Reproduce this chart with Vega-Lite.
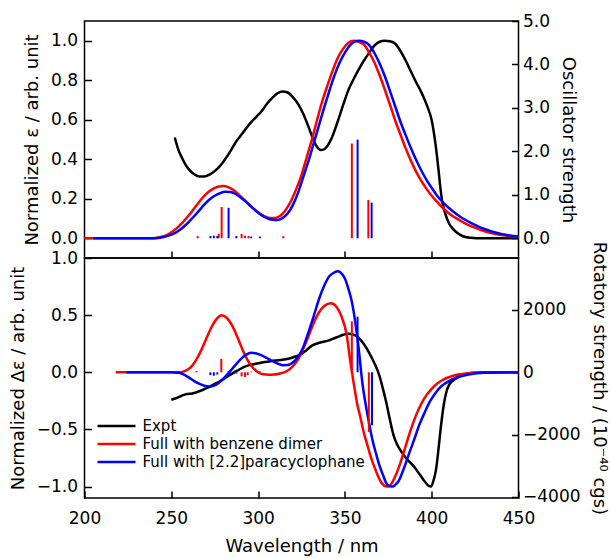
{
"$schema": "https://vega.github.io/schema/vega-lite/v6.json",
"padding": {"left": 7.5, "top": 11, "right": 5, "bottom": 5},
"background": "white",
"bounds": "flush",
"spacing": 0,
"config": {
 "font": "DejaVu Sans",
 "view": {"stroke": "black", "strokeWidth": 1.5},
 "axis": {"labelFont": "DejaVu Sans", "labelFontSize": 17, "labelColor": "black", "titleFont": "DejaVu Sans", "titleFontSize": 18, "titleFontWeight": "normal", "titleColor": "black", "grid": false, "domain": false, "tickColor": "black", "tickSize": -7, "tickWidth": 1.5, "labelFlush": false, "labelOverlap": false, "labelPadding": 14, "titlePadding": 9}
},
"datasets": {
 "abs": [
{"s":"Expt","wl":252,"v":0.51},{"s":"Expt","wl":254,"v":0.45},{"s":"Expt","wl":256,"v":0.41},{"s":"Expt","wl":258,"v":0.375},{"s":"Expt","wl":260,"v":0.35},{"s":"Expt","wl":263,"v":0.325},{"s":"Expt","wl":266,"v":0.313},{"s":"Expt","wl":269,"v":0.313},{"s":"Expt","wl":272,"v":0.322},{"s":"Expt","wl":275,"v":0.34},{"s":"Expt","wl":278,"v":0.365},{"s":"Expt","wl":281,"v":0.4},{"s":"Expt","wl":284,"v":0.44},{"s":"Expt","wl":287,"v":0.485},{"s":"Expt","wl":290,"v":0.52},{"s":"Expt","wl":293,"v":0.555},{"s":"Expt","wl":296,"v":0.588},{"s":"Expt","wl":299,"v":0.615},{"s":"Expt","wl":302,"v":0.643},{"s":"Expt","wl":305,"v":0.68},{"s":"Expt","wl":308,"v":0.71},{"s":"Expt","wl":311,"v":0.733},{"s":"Expt","wl":314,"v":0.743},{"s":"Expt","wl":317,"v":0.738},{"s":"Expt","wl":320,"v":0.715},{"s":"Expt","wl":323,"v":0.68},{"s":"Expt","wl":326,"v":0.63},{"s":"Expt","wl":329,"v":0.565},{"s":"Expt","wl":332,"v":0.495},{"s":"Expt","wl":334,"v":0.462},{"s":"Expt","wl":336,"v":0.447},{"s":"Expt","wl":338,"v":0.45},{"s":"Expt","wl":340,"v":0.468},{"s":"Expt","wl":343,"v":0.52},{"s":"Expt","wl":346,"v":0.595},{"s":"Expt","wl":349,"v":0.675},{"s":"Expt","wl":352,"v":0.75},{"s":"Expt","wl":355,"v":0.805},{"s":"Expt","wl":358,"v":0.855},{"s":"Expt","wl":361,"v":0.9},{"s":"Expt","wl":364,"v":0.94},{"s":"Expt","wl":367,"v":0.975},{"s":"Expt","wl":370,"v":0.995},{"s":"Expt","wl":373,"v":1.0},{"s":"Expt","wl":376,"v":0.997},{"s":"Expt","wl":379,"v":0.985},{"s":"Expt","wl":382,"v":0.948},{"s":"Expt","wl":385,"v":0.9},{"s":"Expt","wl":388,"v":0.845},{"s":"Expt","wl":391,"v":0.79},{"s":"Expt","wl":394,"v":0.74},{"s":"Expt","wl":396,"v":0.7},{"s":"Expt","wl":398,"v":0.655},{"s":"Expt","wl":400,"v":0.598},{"s":"Expt","wl":401.5,"v":0.52},{"s":"Expt","wl":403,"v":0.42},{"s":"Expt","wl":404,"v":0.34},{"s":"Expt","wl":405,"v":0.255},{"s":"Expt","wl":406,"v":0.19},{"s":"Expt","wl":408,"v":0.12},{"s":"Expt","wl":410,"v":0.075},{"s":"Expt","wl":412,"v":0.05},{"s":"Expt","wl":415,"v":0.025},{"s":"Expt","wl":418,"v":0.01},{"s":"Expt","wl":422,"v":0.003},{"s":"Expt","wl":430,"v":0},{"s":"Expt","wl":450,"v":0},
{"s":"Full with benzene dimer","wl":200,"v":0},{"s":"Full with benzene dimer","wl":240,"v":0},{"s":"Full with benzene dimer","wl":244,"v":0.006},{"s":"Full with benzene dimer","wl":247,"v":0.015},{"s":"Full with benzene dimer","wl":250,"v":0.03},{"s":"Full with benzene dimer","wl":253,"v":0.05},{"s":"Full with benzene dimer","wl":256,"v":0.075},{"s":"Full with benzene dimer","wl":259,"v":0.105},{"s":"Full with benzene dimer","wl":262,"v":0.137},{"s":"Full with benzene dimer","wl":265,"v":0.172},{"s":"Full with benzene dimer","wl":268,"v":0.205},{"s":"Full with benzene dimer","wl":271,"v":0.232},{"s":"Full with benzene dimer","wl":274,"v":0.25},{"s":"Full with benzene dimer","wl":277,"v":0.261},{"s":"Full with benzene dimer","wl":280,"v":0.265},{"s":"Full with benzene dimer","wl":283,"v":0.258},{"s":"Full with benzene dimer","wl":286,"v":0.243},{"s":"Full with benzene dimer","wl":289,"v":0.22},{"s":"Full with benzene dimer","wl":292,"v":0.195},{"s":"Full with benzene dimer","wl":295,"v":0.17},{"s":"Full with benzene dimer","wl":298,"v":0.145},{"s":"Full with benzene dimer","wl":301,"v":0.125},{"s":"Full with benzene dimer","wl":304,"v":0.11},{"s":"Full with benzene dimer","wl":307,"v":0.102},{"s":"Full with benzene dimer","wl":310,"v":0.103},{"s":"Full with benzene dimer","wl":313,"v":0.115},{"s":"Full with benzene dimer","wl":316,"v":0.145},{"s":"Full with benzene dimer","wl":319,"v":0.19},{"s":"Full with benzene dimer","wl":322,"v":0.25},{"s":"Full with benzene dimer","wl":325,"v":0.32},{"s":"Full with benzene dimer","wl":328,"v":0.41},{"s":"Full with benzene dimer","wl":331,"v":0.5},{"s":"Full with benzene dimer","wl":334,"v":0.6},{"s":"Full with benzene dimer","wl":337,"v":0.695},{"s":"Full with benzene dimer","wl":340,"v":0.775},{"s":"Full with benzene dimer","wl":343,"v":0.85},{"s":"Full with benzene dimer","wl":346,"v":0.915},{"s":"Full with benzene dimer","wl":349,"v":0.96},{"s":"Full with benzene dimer","wl":352,"v":0.99},{"s":"Full with benzene dimer","wl":355,"v":1.0},{"s":"Full with benzene dimer","wl":358,"v":0.995},{"s":"Full with benzene dimer","wl":361,"v":0.98},{"s":"Full with benzene dimer","wl":364,"v":0.94},{"s":"Full with benzene dimer","wl":367,"v":0.89},{"s":"Full with benzene dimer","wl":370,"v":0.825},{"s":"Full with benzene dimer","wl":373,"v":0.752},{"s":"Full with benzene dimer","wl":376,"v":0.675},{"s":"Full with benzene dimer","wl":379,"v":0.595},{"s":"Full with benzene dimer","wl":382,"v":0.525},{"s":"Full with benzene dimer","wl":385,"v":0.455},{"s":"Full with benzene dimer","wl":388,"v":0.393},{"s":"Full with benzene dimer","wl":391,"v":0.337},{"s":"Full with benzene dimer","wl":394,"v":0.29},{"s":"Full with benzene dimer","wl":397,"v":0.25},{"s":"Full with benzene dimer","wl":400,"v":0.215},{"s":"Full with benzene dimer","wl":403,"v":0.185},{"s":"Full with benzene dimer","wl":406,"v":0.157},{"s":"Full with benzene dimer","wl":409,"v":0.133},{"s":"Full with benzene dimer","wl":412,"v":0.113},{"s":"Full with benzene dimer","wl":415,"v":0.097},{"s":"Full with benzene dimer","wl":418,"v":0.082},{"s":"Full with benzene dimer","wl":421,"v":0.068},{"s":"Full with benzene dimer","wl":424,"v":0.056},{"s":"Full with benzene dimer","wl":427,"v":0.046},{"s":"Full with benzene dimer","wl":430,"v":0.037},{"s":"Full with benzene dimer","wl":435,"v":0.025},{"s":"Full with benzene dimer","wl":440,"v":0.016},{"s":"Full with benzene dimer","wl":445,"v":0.01},{"s":"Full with benzene dimer","wl":450,"v":0.006},
{"s":"Full with [2.2]paracyclophane","wl":205,"v":0},{"s":"Full with [2.2]paracyclophane","wl":240,"v":0},{"s":"Full with [2.2]paracyclophane","wl":245,"v":0.005},{"s":"Full with [2.2]paracyclophane","wl":248,"v":0.012},{"s":"Full with [2.2]paracyclophane","wl":251,"v":0.022},{"s":"Full with [2.2]paracyclophane","wl":254,"v":0.037},{"s":"Full with [2.2]paracyclophane","wl":257,"v":0.057},{"s":"Full with [2.2]paracyclophane","wl":260,"v":0.082},{"s":"Full with [2.2]paracyclophane","wl":263,"v":0.11},{"s":"Full with [2.2]paracyclophane","wl":266,"v":0.14},{"s":"Full with [2.2]paracyclophane","wl":269,"v":0.17},{"s":"Full with [2.2]paracyclophane","wl":272,"v":0.196},{"s":"Full with [2.2]paracyclophane","wl":275,"v":0.215},{"s":"Full with [2.2]paracyclophane","wl":278,"v":0.228},{"s":"Full with [2.2]paracyclophane","wl":281,"v":0.235},{"s":"Full with [2.2]paracyclophane","wl":284,"v":0.234},{"s":"Full with [2.2]paracyclophane","wl":287,"v":0.224},{"s":"Full with [2.2]paracyclophane","wl":290,"v":0.206},{"s":"Full with [2.2]paracyclophane","wl":293,"v":0.184},{"s":"Full with [2.2]paracyclophane","wl":296,"v":0.16},{"s":"Full with [2.2]paracyclophane","wl":299,"v":0.137},{"s":"Full with [2.2]paracyclophane","wl":302,"v":0.117},{"s":"Full with [2.2]paracyclophane","wl":305,"v":0.102},{"s":"Full with [2.2]paracyclophane","wl":308,"v":0.094},{"s":"Full with [2.2]paracyclophane","wl":311,"v":0.093},{"s":"Full with [2.2]paracyclophane","wl":314,"v":0.102},{"s":"Full with [2.2]paracyclophane","wl":317,"v":0.125},{"s":"Full with [2.2]paracyclophane","wl":320,"v":0.168},{"s":"Full with [2.2]paracyclophane","wl":323,"v":0.23},{"s":"Full with [2.2]paracyclophane","wl":326,"v":0.31},{"s":"Full with [2.2]paracyclophane","wl":329,"v":0.39},{"s":"Full with [2.2]paracyclophane","wl":332,"v":0.48},{"s":"Full with [2.2]paracyclophane","wl":335,"v":0.57},{"s":"Full with [2.2]paracyclophane","wl":338,"v":0.66},{"s":"Full with [2.2]paracyclophane","wl":341,"v":0.745},{"s":"Full with [2.2]paracyclophane","wl":344,"v":0.825},{"s":"Full with [2.2]paracyclophane","wl":347,"v":0.89},{"s":"Full with [2.2]paracyclophane","wl":350,"v":0.94},{"s":"Full with [2.2]paracyclophane","wl":353,"v":0.978},{"s":"Full with [2.2]paracyclophane","wl":356,"v":0.997},{"s":"Full with [2.2]paracyclophane","wl":358,"v":1.0},{"s":"Full with [2.2]paracyclophane","wl":361,"v":0.995},{"s":"Full with [2.2]paracyclophane","wl":364,"v":0.978},{"s":"Full with [2.2]paracyclophane","wl":367,"v":0.938},{"s":"Full with [2.2]paracyclophane","wl":370,"v":0.885},{"s":"Full with [2.2]paracyclophane","wl":373,"v":0.82},{"s":"Full with [2.2]paracyclophane","wl":376,"v":0.745},{"s":"Full with [2.2]paracyclophane","wl":379,"v":0.667},{"s":"Full with [2.2]paracyclophane","wl":382,"v":0.59},{"s":"Full with [2.2]paracyclophane","wl":385,"v":0.522},{"s":"Full with [2.2]paracyclophane","wl":388,"v":0.457},{"s":"Full with [2.2]paracyclophane","wl":391,"v":0.397},{"s":"Full with [2.2]paracyclophane","wl":394,"v":0.343},{"s":"Full with [2.2]paracyclophane","wl":397,"v":0.296},{"s":"Full with [2.2]paracyclophane","wl":400,"v":0.255},{"s":"Full with [2.2]paracyclophane","wl":403,"v":0.217},{"s":"Full with [2.2]paracyclophane","wl":406,"v":0.186},{"s":"Full with [2.2]paracyclophane","wl":409,"v":0.16},{"s":"Full with [2.2]paracyclophane","wl":412,"v":0.138},{"s":"Full with [2.2]paracyclophane","wl":415,"v":0.118},{"s":"Full with [2.2]paracyclophane","wl":418,"v":0.1},{"s":"Full with [2.2]paracyclophane","wl":421,"v":0.085},{"s":"Full with [2.2]paracyclophane","wl":424,"v":0.071},{"s":"Full with [2.2]paracyclophane","wl":427,"v":0.059},{"s":"Full with [2.2]paracyclophane","wl":430,"v":0.048},{"s":"Full with [2.2]paracyclophane","wl":435,"v":0.033},{"s":"Full with [2.2]paracyclophane","wl":440,"v":0.022},{"s":"Full with [2.2]paracyclophane","wl":445,"v":0.014},{"s":"Full with [2.2]paracyclophane","wl":450,"v":0.009}
 ],
 "osc": [
{"s":"Full with benzene dimer","wl":265.2,"f":0.05},{"s":"Full with benzene dimer","wl":277.3,"f":0.1},{"s":"Full with benzene dimer","wl":279,"f":0.72},{"s":"Full with benzene dimer","wl":290.5,"f":0.1},{"s":"Full with benzene dimer","wl":292.5,"f":0.06},{"s":"Full with benzene dimer","wl":294.5,"f":0.05},{"s":"Full with benzene dimer","wl":314.5,"f":0.05},{"s":"Full with benzene dimer","wl":354,"f":2.18},{"s":"Full with benzene dimer","wl":363.5,"f":0.88},
{"s":"Full with [2.2]paracyclophane","wl":272.5,"f":0.05},{"s":"Full with [2.2]paracyclophane","wl":274.5,"f":0.06},{"s":"Full with [2.2]paracyclophane","wl":276.5,"f":0.05},{"s":"Full with [2.2]paracyclophane","wl":283,"f":0.7},{"s":"Full with [2.2]paracyclophane","wl":287.5,"f":0.05},{"s":"Full with [2.2]paracyclophane","wl":296,"f":0.04},{"s":"Full with [2.2]paracyclophane","wl":301,"f":0.04},{"s":"Full with [2.2]paracyclophane","wl":357.3,"f":2.27},{"s":"Full with [2.2]paracyclophane","wl":365.4,"f":0.82}
 ],
 "cd": [
{"s":"Expt","wl":250,"v":-0.24},{"s":"Expt","wl":253,"v":-0.225},{"s":"Expt","wl":256,"v":-0.205},{"s":"Expt","wl":259,"v":-0.19},{"s":"Expt","wl":262,"v":-0.185},{"s":"Expt","wl":265,"v":-0.172},{"s":"Expt","wl":268,"v":-0.155},{"s":"Expt","wl":271,"v":-0.135},{"s":"Expt","wl":274,"v":-0.11},{"s":"Expt","wl":277,"v":-0.087},{"s":"Expt","wl":280,"v":-0.06},{"s":"Expt","wl":283,"v":-0.03},{"s":"Expt","wl":286,"v":-0.003},{"s":"Expt","wl":289,"v":0.022},{"s":"Expt","wl":292,"v":0.047},{"s":"Expt","wl":295,"v":0.063},{"s":"Expt","wl":298,"v":0.072},{"s":"Expt","wl":301,"v":0.082},{"s":"Expt","wl":304,"v":0.09},{"s":"Expt","wl":307,"v":0.097},{"s":"Expt","wl":310,"v":0.103},{"s":"Expt","wl":313,"v":0.108},{"s":"Expt","wl":316,"v":0.114},{"s":"Expt","wl":319,"v":0.125},{"s":"Expt","wl":322,"v":0.14},{"s":"Expt","wl":325,"v":0.16},{"s":"Expt","wl":328,"v":0.195},{"s":"Expt","wl":331,"v":0.233},{"s":"Expt","wl":334,"v":0.252},{"s":"Expt","wl":337,"v":0.265},{"s":"Expt","wl":340,"v":0.275},{"s":"Expt","wl":343,"v":0.292},{"s":"Expt","wl":346,"v":0.31},{"s":"Expt","wl":349,"v":0.328},{"s":"Expt","wl":352,"v":0.338},{"s":"Expt","wl":355,"v":0.33},{"s":"Expt","wl":358,"v":0.3},{"s":"Expt","wl":361,"v":0.245},{"s":"Expt","wl":364,"v":0.17},{"s":"Expt","wl":367,"v":0.08},{"s":"Expt","wl":370,"v":-0.035},{"s":"Expt","wl":372,"v":-0.15},{"s":"Expt","wl":374,"v":-0.276},{"s":"Expt","wl":376,"v":-0.42},{"s":"Expt","wl":378,"v":-0.55},{"s":"Expt","wl":380,"v":-0.63},{"s":"Expt","wl":383,"v":-0.705},{"s":"Expt","wl":386,"v":-0.765},{"s":"Expt","wl":389,"v":-0.81},{"s":"Expt","wl":392,"v":-0.87},{"s":"Expt","wl":395,"v":-0.935},{"s":"Expt","wl":398,"v":-0.99},{"s":"Expt","wl":399.5,"v":-1.0},{"s":"Expt","wl":401,"v":-0.95},{"s":"Expt","wl":402.5,"v":-0.85},{"s":"Expt","wl":404,"v":-0.66},{"s":"Expt","wl":405.5,"v":-0.45},{"s":"Expt","wl":407,"v":-0.28},{"s":"Expt","wl":408.5,"v":-0.17},{"s":"Expt","wl":410,"v":-0.11},{"s":"Expt","wl":412,"v":-0.075},{"s":"Expt","wl":415,"v":-0.045},{"s":"Expt","wl":418,"v":-0.022},{"s":"Expt","wl":421,"v":-0.01},{"s":"Expt","wl":425,"v":-0.003},{"s":"Expt","wl":430,"v":0},{"s":"Expt","wl":450,"v":0},
{"s":"Full with benzene dimer","wl":218,"v":0},{"s":"Full with benzene dimer","wl":255,"v":0},{"s":"Full with benzene dimer","wl":258,"v":0.012},{"s":"Full with benzene dimer","wl":261,"v":0.04},{"s":"Full with benzene dimer","wl":264,"v":0.1},{"s":"Full with benzene dimer","wl":267,"v":0.185},{"s":"Full with benzene dimer","wl":270,"v":0.29},{"s":"Full with benzene dimer","wl":273,"v":0.39},{"s":"Full with benzene dimer","wl":276,"v":0.465},{"s":"Full with benzene dimer","wl":279,"v":0.5},{"s":"Full with benzene dimer","wl":282,"v":0.475},{"s":"Full with benzene dimer","wl":285,"v":0.41},{"s":"Full with benzene dimer","wl":288,"v":0.31},{"s":"Full with benzene dimer","wl":291,"v":0.2},{"s":"Full with benzene dimer","wl":294,"v":0.105},{"s":"Full with benzene dimer","wl":297,"v":0.04},{"s":"Full with benzene dimer","wl":300,"v":0.0},{"s":"Full with benzene dimer","wl":303,"v":-0.018},{"s":"Full with benzene dimer","wl":306,"v":-0.022},{"s":"Full with benzene dimer","wl":309,"v":-0.02},{"s":"Full with benzene dimer","wl":312,"v":-0.012},{"s":"Full with benzene dimer","wl":315,"v":0.0},{"s":"Full with benzene dimer","wl":318,"v":0.025},{"s":"Full with benzene dimer","wl":321,"v":0.07},{"s":"Full with benzene dimer","wl":324,"v":0.14},{"s":"Full with benzene dimer","wl":327,"v":0.24},{"s":"Full with benzene dimer","wl":330,"v":0.355},{"s":"Full with benzene dimer","wl":333,"v":0.465},{"s":"Full with benzene dimer","wl":336,"v":0.545},{"s":"Full with benzene dimer","wl":339,"v":0.59},{"s":"Full with benzene dimer","wl":342,"v":0.603},{"s":"Full with benzene dimer","wl":345,"v":0.575},{"s":"Full with benzene dimer","wl":348,"v":0.49},{"s":"Full with benzene dimer","wl":351,"v":0.33},{"s":"Full with benzene dimer","wl":353,"v":0.11},{"s":"Full with benzene dimer","wl":355,"v":-0.09},{"s":"Full with benzene dimer","wl":357,"v":-0.27},{"s":"Full with benzene dimer","wl":359,"v":-0.4},{"s":"Full with benzene dimer","wl":361,"v":-0.535},{"s":"Full with benzene dimer","wl":363,"v":-0.64},{"s":"Full with benzene dimer","wl":365,"v":-0.745},{"s":"Full with benzene dimer","wl":367,"v":-0.83},{"s":"Full with benzene dimer","wl":369,"v":-0.905},{"s":"Full with benzene dimer","wl":371,"v":-0.965},{"s":"Full with benzene dimer","wl":373,"v":-0.995},{"s":"Full with benzene dimer","wl":375,"v":-1.0},{"s":"Full with benzene dimer","wl":377,"v":-0.97},{"s":"Full with benzene dimer","wl":379,"v":-0.91},{"s":"Full with benzene dimer","wl":382,"v":-0.79},{"s":"Full with benzene dimer","wl":385,"v":-0.645},{"s":"Full with benzene dimer","wl":388,"v":-0.5},{"s":"Full with benzene dimer","wl":391,"v":-0.375},{"s":"Full with benzene dimer","wl":394,"v":-0.275},{"s":"Full with benzene dimer","wl":397,"v":-0.2},{"s":"Full with benzene dimer","wl":400,"v":-0.145},{"s":"Full with benzene dimer","wl":403,"v":-0.1},{"s":"Full with benzene dimer","wl":406,"v":-0.07},{"s":"Full with benzene dimer","wl":409,"v":-0.048},{"s":"Full with benzene dimer","wl":412,"v":-0.032},{"s":"Full with benzene dimer","wl":416,"v":-0.018},{"s":"Full with benzene dimer","wl":420,"v":-0.01},{"s":"Full with benzene dimer","wl":425,"v":-0.004},{"s":"Full with benzene dimer","wl":430,"v":-0.001},{"s":"Full with benzene dimer","wl":450,"v":0},
{"s":"Full with [2.2]paracyclophane","wl":224,"v":0},{"s":"Full with [2.2]paracyclophane","wl":250,"v":0},{"s":"Full with [2.2]paracyclophane","wl":254,"v":-0.005},{"s":"Full with [2.2]paracyclophane","wl":257,"v":-0.018},{"s":"Full with [2.2]paracyclophane","wl":260,"v":-0.045},{"s":"Full with [2.2]paracyclophane","wl":263,"v":-0.075},{"s":"Full with [2.2]paracyclophane","wl":266,"v":-0.1},{"s":"Full with [2.2]paracyclophane","wl":269,"v":-0.118},{"s":"Full with [2.2]paracyclophane","wl":272,"v":-0.125},{"s":"Full with [2.2]paracyclophane","wl":275,"v":-0.115},{"s":"Full with [2.2]paracyclophane","wl":278,"v":-0.085},{"s":"Full with [2.2]paracyclophane","wl":281,"v":-0.04},{"s":"Full with [2.2]paracyclophane","wl":284,"v":0.01},{"s":"Full with [2.2]paracyclophane","wl":287,"v":0.065},{"s":"Full with [2.2]paracyclophane","wl":290,"v":0.115},{"s":"Full with [2.2]paracyclophane","wl":293,"v":0.152},{"s":"Full with [2.2]paracyclophane","wl":296,"v":0.17},{"s":"Full with [2.2]paracyclophane","wl":299,"v":0.165},{"s":"Full with [2.2]paracyclophane","wl":302,"v":0.148},{"s":"Full with [2.2]paracyclophane","wl":305,"v":0.125},{"s":"Full with [2.2]paracyclophane","wl":308,"v":0.1},{"s":"Full with [2.2]paracyclophane","wl":311,"v":0.078},{"s":"Full with [2.2]paracyclophane","wl":314,"v":0.062},{"s":"Full with [2.2]paracyclophane","wl":317,"v":0.063},{"s":"Full with [2.2]paracyclophane","wl":320,"v":0.085},{"s":"Full with [2.2]paracyclophane","wl":323,"v":0.135},{"s":"Full with [2.2]paracyclophane","wl":326,"v":0.22},{"s":"Full with [2.2]paracyclophane","wl":329,"v":0.35},{"s":"Full with [2.2]paracyclophane","wl":332,"v":0.49},{"s":"Full with [2.2]paracyclophane","wl":335,"v":0.637},{"s":"Full with [2.2]paracyclophane","wl":338,"v":0.755},{"s":"Full with [2.2]paracyclophane","wl":341,"v":0.84},{"s":"Full with [2.2]paracyclophane","wl":344,"v":0.875},{"s":"Full with [2.2]paracyclophane","wl":346,"v":0.883},{"s":"Full with [2.2]paracyclophane","wl":348,"v":0.865},{"s":"Full with [2.2]paracyclophane","wl":350,"v":0.82},{"s":"Full with [2.2]paracyclophane","wl":352,"v":0.73},{"s":"Full with [2.2]paracyclophane","wl":354,"v":0.617},{"s":"Full with [2.2]paracyclophane","wl":356,"v":0.436},{"s":"Full with [2.2]paracyclophane","wl":358,"v":0.2},{"s":"Full with [2.2]paracyclophane","wl":360,"v":-0.085},{"s":"Full with [2.2]paracyclophane","wl":362,"v":-0.285},{"s":"Full with [2.2]paracyclophane","wl":364,"v":-0.45},{"s":"Full with [2.2]paracyclophane","wl":366,"v":-0.6},{"s":"Full with [2.2]paracyclophane","wl":368,"v":-0.715},{"s":"Full with [2.2]paracyclophane","wl":370,"v":-0.82},{"s":"Full with [2.2]paracyclophane","wl":372,"v":-0.9},{"s":"Full with [2.2]paracyclophane","wl":374,"v":-0.975},{"s":"Full with [2.2]paracyclophane","wl":376,"v":-0.997},{"s":"Full with [2.2]paracyclophane","wl":377.5,"v":-1.0},{"s":"Full with [2.2]paracyclophane","wl":379,"v":-0.985},{"s":"Full with [2.2]paracyclophane","wl":381,"v":-0.95},{"s":"Full with [2.2]paracyclophane","wl":384,"v":-0.84},{"s":"Full with [2.2]paracyclophane","wl":387,"v":-0.71},{"s":"Full with [2.2]paracyclophane","wl":390,"v":-0.584},{"s":"Full with [2.2]paracyclophane","wl":393,"v":-0.455},{"s":"Full with [2.2]paracyclophane","wl":396,"v":-0.35},{"s":"Full with [2.2]paracyclophane","wl":399,"v":-0.255},{"s":"Full with [2.2]paracyclophane","wl":402,"v":-0.185},{"s":"Full with [2.2]paracyclophane","wl":405,"v":-0.13},{"s":"Full with [2.2]paracyclophane","wl":408,"v":-0.095},{"s":"Full with [2.2]paracyclophane","wl":411,"v":-0.068},{"s":"Full with [2.2]paracyclophane","wl":414,"v":-0.048},{"s":"Full with [2.2]paracyclophane","wl":418,"v":-0.03},{"s":"Full with [2.2]paracyclophane","wl":422,"v":-0.017},{"s":"Full with [2.2]paracyclophane","wl":426,"v":-0.008},{"s":"Full with [2.2]paracyclophane","wl":430,"v":-0.003},{"s":"Full with [2.2]paracyclophane","wl":450,"v":0}
 ],
 "rot": [
{"s":"Full with benzene dimer","wl":264.5,"r":40},{"s":"Full with benzene dimer","wl":278.8,"r":430},{"s":"Full with benzene dimer","wl":290.5,"r":-130},{"s":"Full with benzene dimer","wl":292.5,"r":-150},{"s":"Full with benzene dimer","wl":294,"r":-90},{"s":"Full with benzene dimer","wl":354,"r":1635},{"s":"Full with benzene dimer","wl":363.8,"r":-1920},
{"s":"Full with [2.2]paracyclophane","wl":272.5,"r":-90},{"s":"Full with [2.2]paracyclophane","wl":274.5,"r":-110},{"s":"Full with [2.2]paracyclophane","wl":276.5,"r":-70},{"s":"Full with [2.2]paracyclophane","wl":283,"r":40},{"s":"Full with [2.2]paracyclophane","wl":287.5,"r":-40},{"s":"Full with [2.2]paracyclophane","wl":296,"r":20},{"s":"Full with [2.2]paracyclophane","wl":301,"r":25},{"s":"Full with [2.2]paracyclophane","wl":357.3,"r":1785},{"s":"Full with [2.2]paracyclophane","wl":365.6,"r":-1700}
 ]
},
"resolve": {"scale": {"color": "independent"}, "legend": {"color": "independent"}},
"vconcat": [
 {
  "width": 434, "height": 237,
  "layer": [
   {"data": {"name": "abs"},
    "mark": {"type": "line", "strokeWidth": 2.5, "interpolate": "monotone"},
    "encoding": {
     "x": {"field": "wl", "type": "quantitative", "scale": {"domain": [200, 450], "nice": false}, "axis": {"values": [250, 300, 350, 400], "labels": false, "title": null}},
     "y": {"field": "v", "type": "quantitative", "scale": {"domain": [-0.1, 1.1], "nice": false}, "axis": {"values": [0, 0.2, 0.4, 0.6, 0.8, 1.0], "format": ".1f", "title": "Normalized ε / arb. unit"}},
     "color": {"field": "s", "type": "nominal", "scale": {"domain": ["Expt", "Full with benzene dimer", "Full with [2.2]paracyclophane"], "range": ["#000000", "#ff0000", "#0000ff"]}, "legend": null}
    }},
   {"data": {"name": "osc"},
    "mark": {"type": "rule", "strokeWidth": 2},
    "encoding": {
     "x": {"field": "wl", "type": "quantitative"},
     "y": {"field": "f", "type": "quantitative", "scale": {"domain": [-0.4545, 5], "nice": false}, "axis": {"orient": "right", "values": [0, 1, 2, 3, 4, 5], "format": ".1f", "title": "Oscillator strength", "labelPadding": 11}},
     "y2": {"datum": 0},
     "color": {"field": "s", "type": "nominal", "scale": {"domain": ["Expt", "Full with benzene dimer", "Full with [2.2]paracyclophane"], "range": ["#000000", "#ff0000", "#0000ff"]}, "legend": null}
    }}
  ],
  "resolve": {"scale": {"y": "independent"}}
 },
 {
  "width": 434, "height": 240,
  "layer": [
   {"layer": [
     {"mark": {"type": "rule", "strokeWidth": 1.5, "color": "black"},
      "encoding": {"y": {"datum": 0}}},
     {"data": {"name": "cd"},
      "mark": {"type": "line", "strokeWidth": 2.5, "interpolate": "monotone"},
      "encoding": {
       "x": {"field": "wl", "type": "quantitative", "scale": {"domain": [200, 450], "nice": false}, "axis": {"values": [200, 250, 300, 350, 400, 450], "title": "Wavelength / nm", "labelPadding": 19, "titlePadding": 11}},
       "y": {"field": "v", "type": "quantitative", "scale": {"domain": [-1.1, 1.0], "nice": false}, "axis": {"values": [-1, -0.5, 0, 0.5, 1], "format": ".1f", "title": "Normalized Δε / arb. unit"}},
       "color": {"field": "s", "type": "nominal", "scale": {"domain": ["Expt", "Full with benzene dimer", "Full with [2.2]paracyclophane"], "range": ["#000000", "#ff0000", "#0000ff"]},
        "legend": {"orient": "none", "legendX": 22, "legendY": 158, "title": null, "symbolType": "M-2.235,0H2.235", "symbolSize": 289, "symbolStrokeWidth": 2.5, "labelFont": "DejaVu Sans", "labelFontSize": 15, "labelColor": "black", "labelLimit": 400, "labelOffset": 16, "rowPadding": 0}}
      }}
   ]},
   {"data": {"name": "rot"},
    "mark": {"type": "rule", "strokeWidth": 2},
    "encoding": {
     "x": {"field": "wl", "type": "quantitative"},
     "y": {"field": "r", "type": "quantitative", "scale": {"domain": [-4033, 3667], "nice": false}, "axis": {"orient": "right", "values": [-4000, -2000, 0, 2000], "format": "d", "title": "Rotatory strength / (10⁻⁴⁰ cgs)", "labelPadding": 11}},
     "y2": {"datum": 0},
     "color": {"field": "s", "type": "nominal", "scale": {"domain": ["Expt", "Full with benzene dimer", "Full with [2.2]paracyclophane"], "range": ["#000000", "#ff0000", "#0000ff"]}, "legend": null}
    }}
  ],
  "resolve": {"scale": {"y": "independent"}}
 }
]
}
